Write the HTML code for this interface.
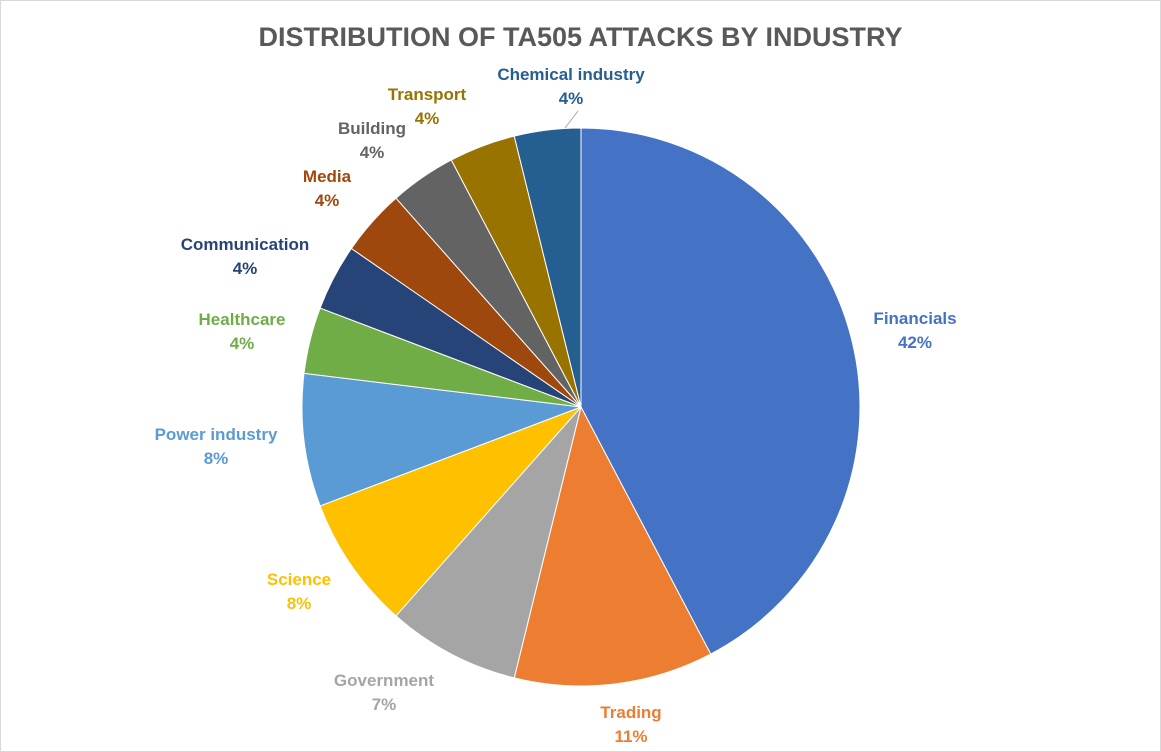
<!DOCTYPE html>
<html><head><meta charset="utf-8"><style>
body{margin:0;background:#fff;}
#c{position:relative;width:1159px;height:750px;border:1px solid #d9d9d9;background:#fff;font-family:"Liberation Sans",sans-serif;}
.t{position:absolute;left:0;width:1159px;top:21px;text-align:center;font-size:27px;font-weight:bold;color:#595959;letter-spacing:0px}
.l{position:absolute;font-size:17px;font-weight:bold;text-align:center;line-height:24px;transform:translateX(-50%);white-space:nowrap}
svg{position:absolute;left:0;top:0}
</style></head><body><div id="c">
<div class="t">DISTRIBUTION OF TA505 ATTACKS BY INDUSTRY</div>
<svg width="1159" height="750" id="s"></svg>
<div class="l" style="left:914px;top:306px;color:#4472C4">Financials<br>42%</div>
<div class="l" style="left:630px;top:700px;color:#ED7D31">Trading<br>11%</div>
<div class="l" style="left:383px;top:668px;color:#A5A5A5">Government<br>7%</div>
<div class="l" style="left:298px;top:567px;color:#FFC000">Science<br>8%</div>
<div class="l" style="left:215px;top:422px;color:#5B9BD5">Power industry<br>8%</div>
<div class="l" style="left:241px;top:307px;color:#70AD47">Healthcare<br>4%</div>
<div class="l" style="left:244px;top:232px;color:#264478">Communication<br>4%</div>
<div class="l" style="left:326px;top:164px;color:#9E480E">Media<br>4%</div>
<div class="l" style="left:371px;top:116px;color:#636363">Building<br>4%</div>
<div class="l" style="left:426px;top:82px;color:#997300">Transport<br>4%</div>
<div class="l" style="left:570px;top:62px;color:#255E91">Chemical industry<br>4%</div>
</div>
<script>
var d=[[11,"#4472C4"],[3,"#ED7D31"],[2,"#A5A5A5"],[2,"#FFC000"],[2,"#5B9BD5"],[1,"#70AD47"],[1,"#264478"],[1,"#9E480E"],[1,"#636363"],[1,"#997300"],[1,"#255E91"]];
var cx=580,cy=406,r=279,a=0,h="";
function p(t){return [(cx+r*Math.sin(t)).toFixed(2),(cy-r*Math.cos(t)).toFixed(2)];}
d.forEach(function(x){var b=a+x[0]/26*2*Math.PI;var s=p(a),e=p(b);
h+='<path d="M'+cx+' '+cy+'L'+s[0]+' '+s[1]+'A'+r+' '+r+' 0 '+((b-a)>Math.PI?1:0)+' 1 '+e[0]+' '+e[1]+'Z" fill="'+x[1]+'" stroke="#fff" stroke-width="1"/>';a=b;});
h+='<line x1="564" y1="127" x2="577" y2="110" stroke="#a6a6a6" stroke-width="1"/>';
document.getElementById("s").innerHTML=h;
</script>
</body></html>
